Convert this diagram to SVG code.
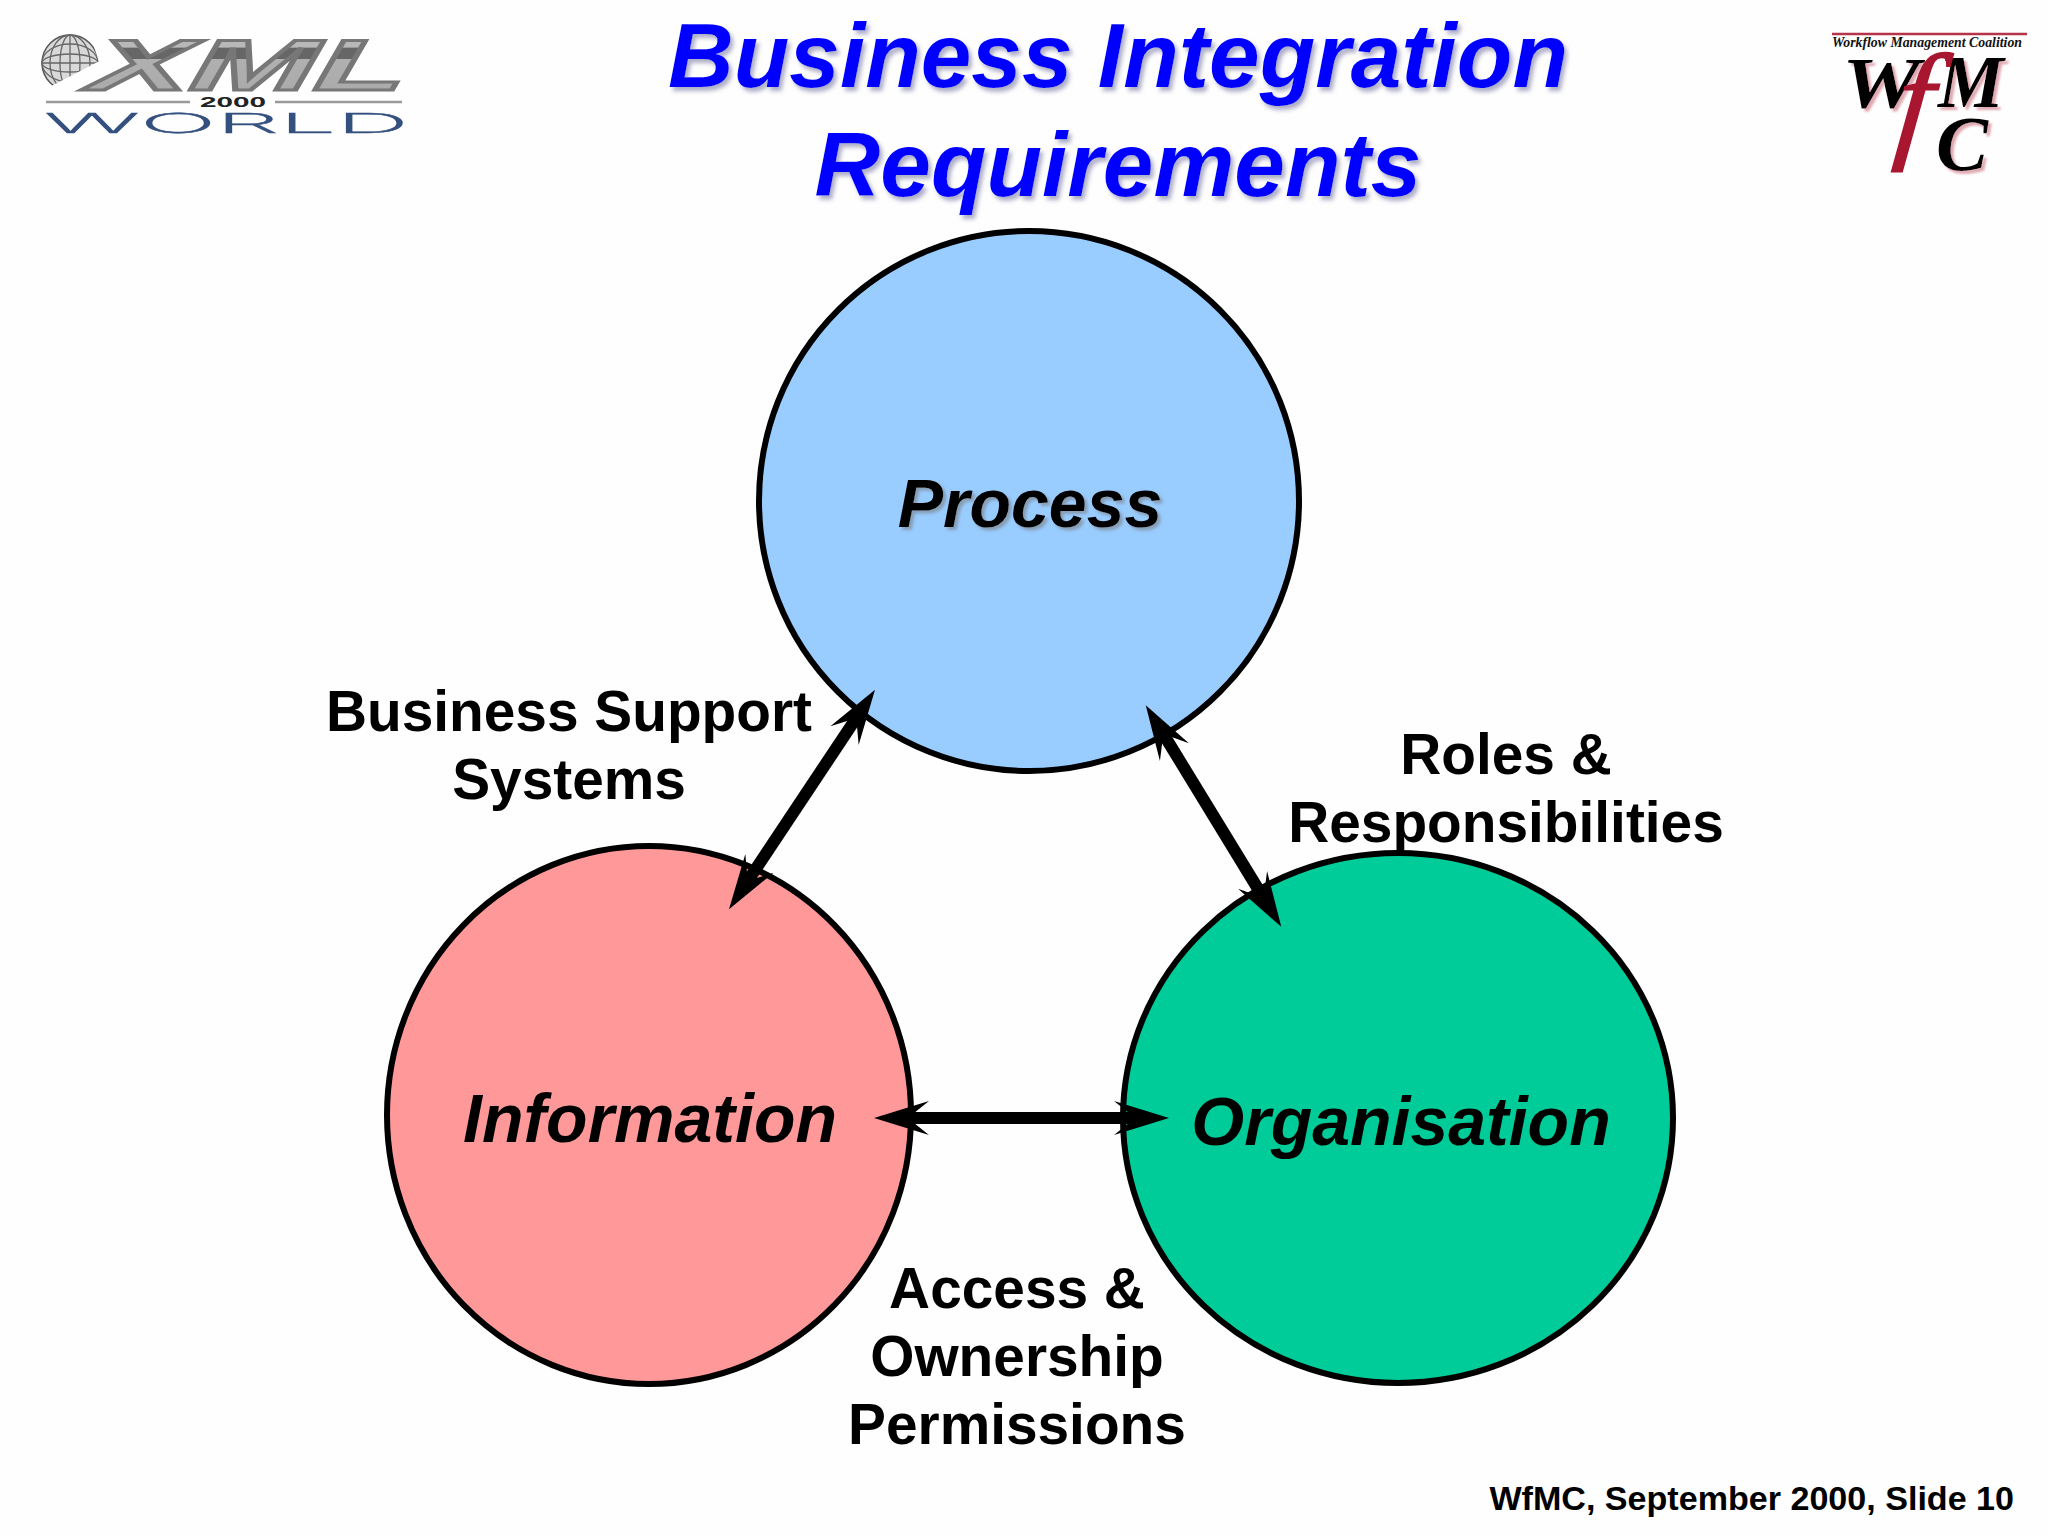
<svg xmlns="http://www.w3.org/2000/svg" width="2048" height="1536" viewBox="0 0 2048 1536">
<style>
.sans{font-family:"Liberation Sans",Arial,sans-serif;font-weight:700}
.serif{font-family:"Liberation Serif","Times New Roman",serif;font-weight:700;font-style:italic}
.title{font-size:91px;font-style:italic;fill:#0000ff;text-anchor:middle;filter:url(#ts)}
.label{font-size:56.8px;fill:#000;text-anchor:middle}
.nodetext{font-size:68px;font-style:italic;fill:#000;text-anchor:middle}
.circle{stroke:#000;stroke-width:6}
.conn{stroke:#000;stroke-width:12;fill:none;marker-start:url(#head);marker-end:url(#head)}
.wf{fill:#000;filter:url(#ps)}
</style>
<defs>
<filter id="ts" x="-5%" y="-10%" width="110%" height="130%"><feDropShadow dx="3" dy="4" stdDeviation="2" flood-color="#8a8ab0" flood-opacity=".7"/></filter>
<filter id="gs" x="-5%" y="-10%" width="110%" height="130%"><feDropShadow dx="3" dy="3" stdDeviation="1.5" flood-color="#777" flood-opacity=".55"/></filter>
<filter id="ps" x="-10%" y="-10%" width="125%" height="125%"><feDropShadow dx="3" dy="3" stdDeviation="1" flood-color="#e0a8b0"/></filter>
<marker id="head" markerUnits="userSpaceOnUse" markerWidth="70" markerHeight="50" refX="20" refY="25" orient="auto-start-reverse" viewBox="0 0 70 50">
<path d="M55 25L0 8L15 20L15 30L0 42Z" fill="#000"/>
</marker>
<linearGradient id="xmlg" x1="0" y1="0" x2="0" y2="1">
<stop offset="0.18" stop-color="#b8b8b8"/><stop offset="0.28" stop-color="#b8b8b8"/><stop offset="0.29" stop-color="#666"/><stop offset="0.42" stop-color="#666"/><stop offset="0.43" stop-color="#b0b0b0"/><stop offset="1" stop-color="#a8a8a8"/>
</linearGradient>
<clipPath id="globeclip"><path d="M30 30H92L100 62L48 89L30 92Z"/></clipPath>
</defs>
<rect width="2048" height="1536" fill="#fefefe"/>

<g id="logo-xml">
<text class="sans" transform="translate(88 90) skewX(-10) scale(2.08 1)" x="0" y="0" font-size="72" font-style="italic" fill="url(#xmlg)" stroke="#777" stroke-width="3">XML</text>
<g clip-path="url(#globeclip)">
<rect x="30" y="30" width="80" height="70" fill="#fefefe"/>
<g fill="none" stroke="#666" stroke-width="1.3">
<circle cx="70" cy="63" r="28" fill="#d8d8d8" stroke="#555" stroke-width="1.5"/>
<ellipse cx="70" cy="63" rx="10" ry="28"/><ellipse cx="70" cy="63" rx="20" ry="28"/>
<ellipse cx="70" cy="63" rx="28" ry="9"/><ellipse cx="70" cy="63" rx="28" ry="19"/>
<path d="M42 63H98M70 35V91"/>
</g>
</g>
<path d="M92 37L100 62L48 89" fill="none" stroke="#fefefe" stroke-width="2"/>
<path d="M46 102H190M275 102H402" stroke="#999" stroke-width="2.5"/>
<text class="sans" x="233" y="107" font-size="14" text-anchor="middle" textLength="66" lengthAdjust="spacingAndGlyphs" fill="#222">2000</text>
<text transform="translate(44 133) scale(3.68 1)" x="0" y="0" font-size="27.5" font-family="Inter,'Liberation Sans',sans-serif" font-weight="200" fill="#34507f" stroke="#34507f" stroke-width=".5">WORLD</text>
</g>

<g id="logo-wfmc">
<path d="M1832 34H2027" stroke="#b5344a" stroke-width="2.5"/>
<text class="serif" x="1832" y="47" font-size="15" textLength="190" lengthAdjust="spacingAndGlyphs" fill="#111">Workflow Management Coalition</text>
<text class="serif wf" x="1842" y="107" font-size="72" textLength="78" lengthAdjust="spacingAndGlyphs">W</text>
<text class="serif wf" x="1938" y="107" font-size="74">M</text>
<text class="serif wf" x="1936" y="170" font-size="78">C</text>
<text class="serif" style="font-weight:400" transform="translate(1893 144) skewX(-6)" x="0" y="0" font-size="130" fill="#a8162f" stroke="#a8162f" stroke-width="1.5">f</text>
</g>

<g id="title" class="sans">
<text class="title" x="1118" y="87">Business Integration</text>
<text class="title" x="1118" y="196">Requirements</text>
</g>

<g id="node-process">
<ellipse class="circle" cx="1029" cy="501" rx="270" ry="270" fill="#99ccff"/>
<text class="sans nodetext" filter="url(#gs)" x="1030" y="527">Process</text>
</g>
<g id="node-information">
<ellipse class="circle" cx="649" cy="1115" rx="262" ry="269" fill="#ff9999"/>
<text class="sans nodetext" x="650" y="1142">Information</text>
</g>
<g id="node-organisation">
<ellipse class="circle" cx="1398" cy="1118" rx="275" ry="265" fill="#00cc99"/>
<text class="sans nodetext" x="1401" y="1145">Organisation</text>
</g>

<g id="connectors">
<line class="conn" x1="855.6" y1="719" x2="748.4" y2="880"/>
<line class="conn" x1="1164" y1="735" x2="1263" y2="897"/>
<line class="conn" x1="909" y1="1118" x2="1134" y2="1118"/>
</g>

<g id="labels" class="sans">
<text class="label" x="569" y="731">Business Support</text>
<text class="label" x="569" y="799">Systems</text>
<text class="label" x="1506" y="774">Roles &amp;</text>
<text class="label" x="1506" y="842">Responsibilities</text>
<text class="label" x="1017" y="1308">Access &amp;</text>
<text class="label" x="1017" y="1376">Ownership</text>
<text class="label" x="1017" y="1444">Permissions</text>
<text x="2014" y="1510" font-size="34.1" text-anchor="end" fill="#000">WfMC, September 2000, Slide 10</text>
</g>
</svg>
